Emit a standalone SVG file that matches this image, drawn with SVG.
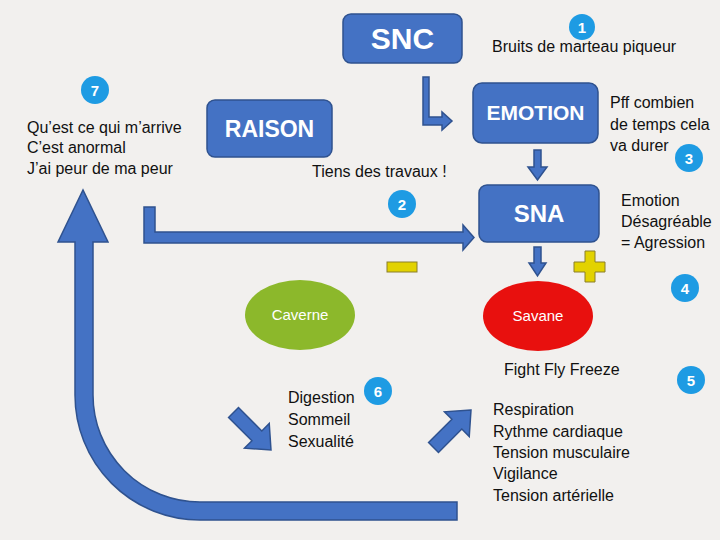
<svg xmlns="http://www.w3.org/2000/svg" width="720" height="540" viewBox="0 0 720 540">
<style>
.box{fill:#4472c4;stroke:#2f528f;stroke-width:1.5}
.arr{fill:#4472c4;stroke:#2f528f;stroke-width:1.5;stroke-linejoin:miter}
.bt{font-family:"Liberation Sans",Arial,sans-serif;font-weight:bold;fill:#ffffff;text-anchor:middle}
.t{font-family:"Liberation Sans",Arial,sans-serif;font-size:16px;fill:#111111}
.badge{fill:#1e9be3}
.bn{font-family:"Liberation Sans",Arial,sans-serif;font-weight:bold;font-size:15px;fill:#ffffff;text-anchor:middle}
.yl{fill:#e2d200;stroke:#8a7f2a;stroke-width:1}
.et{font-family:"Liberation Sans",Arial,sans-serif;font-size:15px;fill:#ffffff;text-anchor:middle}
</style>
<rect width="720" height="540" fill="#f2f0ee"/>

<g id="connectors">
<path class="arr" d="M423 77 L429 77 L429 117 L442 117 L442 112 L452 121 L442 130 L442 125 L423 125 Z"/>
<path class="arr" d="M144 207 L155 207 L155 232 L463 232 L463 225 L474 237.5 L463 250 L463 243 L144 243 Z"/>
<path class="arr" d="M534 150 L541 150 L541 167 L547 167 L537.5 180 L528 167 L534 167 Z"/>
<path class="arr" d="M534 247 L541 247 L541 263 L546 263 L537.5 276 L529 263 L534 263 Z"/>
<path class="arr" d="M93 242 L93 395 A107 107 0 0 0 200 502 L457 502 L457 520 L200 520 A125 125 0 0 1 75 395 L75 242 L58 242 L83 190 L108 242 Z"/>
<path class="arr" transform="translate(271 450) rotate(45)" d="M0 0 L-20 -17.5 L-20 -7 L-53 -7 L-53 7 L-20 7 L-20 17.5 Z"/>
<path class="arr" transform="translate(471 410) rotate(-45)" d="M0 0 L-20 -17.5 L-20 -7 L-53 -7 L-53 7 L-20 7 L-20 17.5 Z"/>
</g>

<g id="snc">
<rect class="box" x="343" y="14" width="119" height="49" rx="8"/>
<text class="bt" x="402.5" y="49" font-size="30">SNC</text>
</g>
<g id="emotion">
<rect class="box" x="473" y="83" width="125" height="60" rx="9"/>
<text class="bt" x="535.5" y="120" font-size="21">EMOTION</text>
</g>
<g id="raison">
<rect class="box" x="207" y="100" width="125" height="57" rx="8"/>
<text class="bt" x="269.5" y="137" font-size="23">RAISON</text>
</g>
<g id="sna">
<rect class="box" x="479" y="185" width="120" height="57" rx="8"/>
<text class="bt" x="539" y="222" font-size="24">SNA</text>
</g>
<g id="savane">
<ellipse cx="538" cy="316" rx="55" ry="35" fill="#e8100e"/>
<text class="et" x="538" y="321">Savane</text>
</g>
<g id="caverne">
<ellipse cx="300" cy="315" rx="55" ry="35" fill="#8cb82b"/>
<text class="et" x="300" y="320">Caverne</text>
</g>

<g id="signs">
<rect class="yl" x="387" y="262" width="30" height="10"/>
<path class="yl" d="M585 251 L595 251 L595 262 L605 262 L605 272 L595 272 L595 282 L585 282 L585 272 L574 272 L574 262 L585 262 Z"/>
</g>

<g id="badges">
<circle class="badge" cx="582" cy="27" r="13"/><text class="bn" x="582" y="32.5">1</text>
<circle class="badge" cx="402" cy="204" r="14"/><text class="bn" x="402" y="209.5">2</text>
<circle class="badge" cx="689" cy="158" r="14"/><text class="bn" x="689" y="163.5">3</text>
<circle class="badge" cx="685" cy="288" r="14"/><text class="bn" x="685" y="293.5">4</text>
<circle class="badge" cx="691" cy="380" r="14"/><text class="bn" x="691" y="385.5">5</text>
<circle class="badge" cx="378" cy="391" r="14"/><text class="bn" x="378" y="396.5">6</text>
<circle class="badge" cx="95" cy="90" r="14"/><text class="bn" x="95" y="95.5">7</text>
</g>

<g id="texts">
<text class="t" x="492" y="52">Bruits de marteau piqueur</text>
<text class="t" x="610" y="108">Pff combien</text>
<text class="t" x="610" y="130">de temps cela</text>
<text class="t" x="610" y="151">va durer</text>
<text class="t" x="27" y="133">Qu’est ce qui m’arrive</text>
<text class="t" x="27" y="153">C’est anormal</text>
<text class="t" x="27" y="174">J’ai peur de ma peur</text>
<text class="t" x="312" y="177">Tiens des travaux !</text>
<text class="t" x="621" y="206">Emotion</text>
<text class="t" x="621" y="227">Désagréable</text>
<text class="t" x="621" y="248">= Agression</text>
<text class="t" x="504" y="375">Fight Fly Freeze</text>
<text class="t" x="288" y="403">Digestion</text>
<text class="t" x="288" y="425">Sommeil</text>
<text class="t" x="288" y="447">Sexualité</text>
<text class="t" x="493" y="415">Respiration</text>
<text class="t" x="493" y="437">Rythme cardiaque</text>
<text class="t" x="493" y="458">Tension musculaire</text>
<text class="t" x="493" y="479">Vigilance</text>
<text class="t" x="493" y="501">Tension artérielle</text>
</g>
</svg>
